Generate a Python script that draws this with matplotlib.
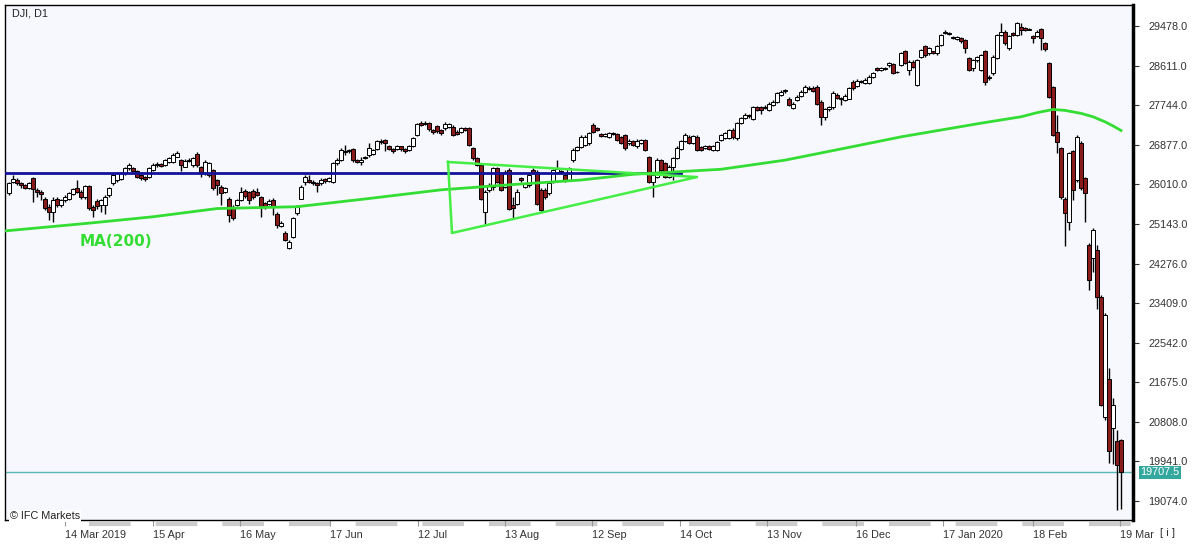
import numpy as np
import matplotlib.pyplot as plt
import matplotlib.transforms as mtransforms

plt.rcParams['font.family'] = ['Liberation Sans', 'DejaVu Sans']

# daily candles DJI (index 0 = first candle on the left)
opens = [
    25810, 26070, 26100, 26030, 25990, 25930, 26160, 25890, 25850, 25700,
    25520, 25410, 25700, 25560, 25670, 25700, 25800, 25920, 25850, 25740,
    25970, 25520, 25650, 25560, 25560, 25780, 26030, 26100, 26130, 26250,
    26360, 26360, 26310, 26210, 26180, 26180, 26330, 26430, 26450, 26430,
    26500, 26510, 26620, 26540, 26400, 26520, 26430, 26670, 26400, 26250,
    26220, 26320, 26100, 25960, 25850, 25700, 25520, 25560, 25670, 25870,
    25850, 25870, 25850, 25730, 25600, 25580, 25670, 25360, 25100, 24940,
    24610, 24860, 25380, 25700, 26070, 26110, 26070, 26030, 26030, 26120,
    26090, 26070, 26470, 26540, 26740, 26740, 26780, 26540, 26510, 26620,
    26650, 26680, 26780, 26960, 26980, 26840, 26780, 26790, 26840, 26780,
    26760, 26840, 27090, 27350, 27330, 27350, 27200, 27290, 27200, 27240,
    27270, 27270, 27160, 27160, 27240, 27240, 26800, 26580, 26430, 25410,
    25890, 25960, 26360, 26250, 25960, 26320, 25560, 25590, 26140, 25960,
    26000, 26330, 26290, 25890, 25890, 25810, 26070, 26290, 26300, 26220,
    26110, 26540, 26770, 26830, 26870, 26910, 27310, 27240, 27110, 27070,
    27050, 27130, 27120, 27050, 27090, 26910, 26950, 26840, 26910, 26980,
    26620, 26070, 26180, 26540, 26470, 26180, 26400, 26580, 26780, 26950,
    27050, 26910, 27050, 26830, 26800, 26850, 26770, 26760, 26980, 27020,
    27020, 27210, 27020, 27350, 27460, 27520, 27450, 27700, 27700, 27680,
    27640, 27750, 27820, 27970, 28080, 27890, 27680, 27860, 27950, 28040,
    28130, 28130, 28150, 27820, 27490, 27650, 27700, 27970, 27900, 27860,
    27890, 28260, 28160, 28280, 28220, 28220, 28370, 28550, 28510, 28560,
    28630, 28650, 28480, 28620, 28920, 28510, 28700, 28190, 28810, 29030,
    28880, 28920, 28880, 29060, 29340, 29300, 29230, 29200, 29210, 29170,
    28770, 28550, 28730, 28520, 28920, 28360, 28440, 28770, 29280, 29350,
    28990, 29320, 29280, 29460, 29430, 29400, 29260, 29260, 29410, 29110,
    28660, 28150, 27160, 26800, 25700, 25190, 26730, 26110, 26910, 26140,
    24680, 24390, 24570, 23550, 20920, 21740, 20670, 20380, 20410,
]
highs = [
    26070, 26210, 26140, 26070, 26010, 26070, 26180, 25920, 25880, 25740,
    25590, 25740, 25740, 25700, 25770, 25850, 25930, 26110, 25880, 26000,
    26000, 25560, 25680, 25700, 25780, 25960, 26250, 26290, 26290, 26400,
    26480, 26400, 26330, 26230, 26200, 26380, 26470, 26490, 26470, 26570,
    26620, 26690, 26740, 26560, 26560, 26580, 26600, 26720, 26420, 26540,
    26510, 26340, 26130, 25990, 25950, 25740, 25560, 25700, 25960, 25900,
    25870, 25900, 25920, 25760, 25630, 25680, 25710, 25400, 25200, 24980,
    24790, 25300, 25560, 26000, 26210, 26220, 26100, 26070, 26140, 26150,
    26170, 26500, 26580, 26800, 26870, 26790, 26800, 26560, 26610, 26640,
    26910, 26790, 26980, 27000, 27010, 26870, 26800, 26870, 26860, 26800,
    26880, 27040, 27350, 27400, 27400, 27380, 27220, 27310, 27220, 27370,
    27360, 27300, 27190, 27270, 27270, 27260, 26820, 26600, 26450, 25890,
    26030, 26400, 26400, 26290, 26320, 26360, 25740, 25900, 26180, 26050,
    26250, 26360, 26320, 25920, 25920, 26060, 26350, 26550, 26330, 26240,
    26390, 26800, 26860, 27080, 27080, 27160, 27360, 27260, 27130, 27140,
    27160, 27160, 27140, 27070, 27110, 27000, 26980, 27000, 27010, 27000,
    26640, 26250, 26580, 26570, 26500, 26440, 26620, 26840, 26980, 27130,
    27080, 27100, 27080, 26860, 26870, 26880, 26880, 26970, 27120, 27160,
    27230, 27240, 27380, 27490, 27570, 27550, 27730, 27720, 27720, 27740,
    27810, 27850, 28030, 28070, 28100, 27920, 27820, 27960, 28070, 28180,
    28160, 28160, 28180, 27850, 27680, 27730, 28050, 28000, 27920, 27980,
    28140, 28290, 28310, 28300, 28330, 28400, 28480, 28570, 28570, 28580,
    28700, 28670, 28500, 28910, 28950, 28730, 28730, 28760, 28980, 29060,
    29020, 28940, 29060, 29310, 29390, 29350, 29260, 29260, 29240, 29190,
    28790, 28760, 28830, 28870, 28950, 28400, 28840, 29310, 29540, 29380,
    29290, 29340, 29570, 29540, 29450, 29440, 29280, 29380, 29430, 29130,
    28680, 28170, 27530, 26820, 25730, 26720, 26760, 27090, 26950, 26170,
    24720, 25050, 24680, 23580, 23200, 21980, 21320, 20630, 20430,
]
lows = [
    25780, 26030, 25990, 25920, 25900, 25900, 25630, 25740, 25670, 25450,
    25230, 25190, 25520, 25520, 25630, 25660, 25770, 25820, 25700, 25700,
    25450, 25300, 25480, 25410, 25370, 25740, 26000, 26070, 26100, 26220,
    26330, 26280, 26160, 26110, 26090, 26150, 26300, 26400, 26400, 26410,
    26470, 26480, 26600, 26310, 26380, 26500, 26400, 26400, 26180, 26220,
    26180, 25880, 25780, 25560, 25820, 25190, 25230, 25530, 25640, 25720,
    25590, 25700, 25760, 25300, 25480, 25550, 25340, 25050, 25070, 24760,
    24590, 24840, 25340, 25680, 26000, 26050, 26000, 25850, 26000, 26050,
    26070, 26050, 26440, 26520, 26660, 26700, 26510, 26480, 26430, 26560,
    26620, 26650, 26760, 26900, 26730, 26770, 26690, 26770, 26730, 26690,
    26740, 26820, 27060, 27290, 27320, 27180, 27120, 27140, 27090, 27200,
    27240, 27060, 27080, 27140, 27170, 26850, 26550, 26410, 25670, 25150,
    25850, 25880, 26040, 25860, 25930, 25450, 25270, 25560, 26060, 25920,
    25960, 26230, 25560, 25410, 25700, 25780, 26040, 26270, 26240, 26060,
    26080, 26500, 26740, 26800, 26840, 26880, 27140, 27180, 27040, 27040,
    27020, 27090, 26960, 26890, 26770, 26880, 26850, 26810, 26890, 26740,
    26040, 25740, 26150, 26290, 26150, 26150, 26100, 26560, 26760, 26930,
    26890, 26890, 26730, 26740, 26780, 26760, 26750, 26740, 26960, 27000,
    27000, 27010, 26990, 27330, 27440, 27470, 27430, 27610, 27560, 27660,
    27620, 27720, 27790, 27940, 28020, 27720, 27650, 27830, 27920, 28010,
    28070, 28040, 27750, 27310, 27420, 27620, 27670, 27870, 27750, 27840,
    27870, 28080, 28140, 28230, 28200, 28200, 28350, 28500, 28490, 28510,
    28590, 28420, 28440, 28600, 28640, 28400, 28560, 28170, 28780, 28810,
    28850, 28860, 28850, 29030, 29300, 29280, 29190, 29180, 29110, 28880,
    28490, 28500, 28700, 28490, 28180, 28300, 28410, 28750, 29260, 29070,
    28960, 29250, 29250, 29280, 29360, 29380, 29100, 29240, 28960, 28940,
    27900, 27060, 26690, 25700, 24650, 25010, 25670, 26070, 25880, 25190,
    23700, 24100, 23290, 21150, 20850, 19900, 19880, 18880, 18910,
]
closes = [
    26030, 26120, 26050, 25990, 25930, 26030, 25900, 25850, 25800, 25490,
    25410, 25670, 25560, 25670, 25740, 25820, 25900, 25850, 25740, 25970,
    25490, 25450, 25540, 25670, 25740, 25920, 26210, 26250, 26260, 26360,
    26430, 26310, 26180, 26140, 26120, 26360, 26430, 26450, 26420, 26540,
    26580, 26650, 26690, 26440, 26520, 26550, 26580, 26430, 26290, 26510,
    26470, 25920, 25990, 25810, 25920, 25340, 25270, 25670, 25850, 25760,
    25670, 25740, 25780, 25540, 25520, 25650, 25520, 25120, 25160, 24790,
    24750, 25270, 25520, 25960, 26180, 26070, 26030, 26000, 26110, 26080,
    26140, 26470, 26540, 26760, 26720, 26760, 26540, 26510, 26540, 26590,
    26800, 26760, 26950, 26930, 26910, 26790, 26750, 26840, 26780, 26730,
    26850, 27020, 27330, 27310, 27360, 27220, 27160, 27170, 27140, 27330,
    27330, 27090, 27110, 27240, 27200, 26870, 26580, 26430, 25700, 25850,
    26000, 26360, 26070, 25890, 26290, 25480, 25490, 25850, 26100, 26020,
    26220, 26250, 25590, 25450, 25740, 26030, 26320, 26340, 26270, 26110,
    26360, 26760, 26830, 27050, 27050, 27130, 27160, 27210, 27070, 27110,
    27140, 27120, 26980, 26910, 26800, 26970, 26870, 26970, 26980, 26760,
    26070, 26220, 26540, 26320, 26180, 26400, 26580, 26800, 26950, 27090,
    26910, 27070, 26760, 26770, 26840, 26780, 26850, 26940, 27090, 27130,
    27200, 27040, 27350, 27460, 27530, 27500, 27700, 27640, 27640, 27710,
    27780, 27820, 28000, 28040, 28050, 27750, 27780, 27930, 28040, 28150,
    28100, 28060, 27780, 27490, 27650, 27700, 28020, 27900, 27870, 27950,
    28110, 28110, 28280, 28250, 28300, 28370, 28450, 28520, 28550, 28530,
    28660, 28440, 28460, 28880, 28660, 28700, 28590, 28730, 28950, 28840,
    28990, 28880, 29030, 29280, 29320, 29330, 29210, 29230, 29140, 28990,
    28510, 28730, 28800, 28840, 28260, 28330, 28810, 29280, 29350, 29100,
    29260, 29280, 29540, 29400, 29390, 29420, 29210, 29350, 29210, 28970,
    27930, 27090, 26940, 25740, 25380, 26690, 25890, 27050, 25920, 25830,
    23920, 25010, 23550, 21180, 23150, 20160, 21180, 19860, 19707.5,
]

# moving average MA(200), sampled along the drawn curve
ma_idx = [-1, 20, 36, 52, 72, 90, 108, 125, 143, 156, 178, 194, 210, 223, 243,
          253, 257, 261, 264, 268, 271, 274, 276, 278]
ma_val = [24990, 25160, 25300, 25480, 25520, 25700, 25890, 26000, 26105, 26230,
          26340, 26540, 26820, 27050, 27350, 27490, 27580, 27650, 27630, 27565,
          27490, 27380, 27290, 27190]

# drawn objects: horizontal level and triangle
level_idx = [-1, 168]
level_val = [26250, 26250]
tri_idx = [109.75, 110.75, 172, 109.75]
tri_val = [26500, 24945, 26170, 26500]

last_price = 19707.5

price_ticks = [19074, 19941, 20808, 21675, 22542, 23409, 24276, 25143, 26010, 26877, 27744, 28611, 29478]
date_pos = [14, 36, 57.75, 80.25, 102.25, 124, 145.75, 167.75, 189.5, 211.75, 233.5, 256, 277.75]
date_labels = ['14 Mar 2019', '15 Apr', '16 May', '17 Jun', '12 Jul', '13 Aug', '12 Sep',
               '14 Oct', '13 Nov', '16 Dec', '17 Jan 2020', '18 Feb', '19 Mar']

W, H = 1194, 545
fig = plt.figure(figsize=(W / 100, H / 100), dpi=100)
fig.patch.set_facecolor('white')
ax = fig.add_axes([5 / W, 1 - 520 / H, 1128 / W, 515 / H])
ax.set_facecolor('#f7f8fd')

o = np.array(opens, dtype=float)
c = np.array(closes, dtype=float)
h = np.array(highs, dtype=float)
l = np.array(lows, dtype=float)
x = np.arange(len(c))
up = c >= o

# wicks and bodies
ax.vlines(x, l, h, color='black', lw=1, zorder=2)
body = np.maximum(np.abs(c - o), 14)
ax.bar(x, body, bottom=np.minimum(o, c), width=0.8,
       color=np.where(up, 'white', '#8b1a1a'), edgecolor='black', linewidth=0.7, zorder=3)

# drawings
ax.plot(level_idx, level_val, color='#12129a', lw=2, zorder=4)
ax.plot(ma_idx, ma_val, color='#33dd33', lw=2, zorder=4, solid_joinstyle='round')
ax.plot(tri_idx, tri_val, color='#44ee44', lw=1.8, zorder=4)
ax.axhline(last_price, color='#58b8b4', lw=1, zorder=1)
ax.text(17.75, 24750, 'MA(200)', color='#33dd33', fontsize=11, fontweight='bold',
        family='DejaVu Sans', va='center', ha='left', zorder=5)

ax.set_xlim(-1, 281)
ax.set_ylim(18659, 29938)

# axes styling
ax.yaxis.tick_right()
ax.set_yticks(price_ticks)
ax.set_yticklabels([f'{v:.1f}' for v in price_ticks])
ax.tick_params(axis='y', right=True, left=False, length=4, width=0.8, pad=7,
               labelsize=7.8, colors='#333333')
ax.set_xticks(date_pos)
ax.set_xticklabels(date_labels, ha='left')
ax.tick_params(axis='x', length=4, width=0.8, pad=3, labelsize=7.8,
               color='#999999', labelcolor='#333333')
for s in ['left', 'top', 'bottom']:
    ax.spines[s].set_linewidth(1)
    ax.spines[s].set_color('black')
ax.spines['right'].set_linewidth(2.5)

# gray scale bar under the plot
trans = mtransforms.blended_transform_factory(ax.transData, ax.transAxes)
ax.plot([20, 281], [-0.007, -0.007], transform=trans, color='#cccccc', lw=3,
        dashes=(10, 6), clip_on=False, zorder=0)

# last price box
tb = mtransforms.blended_transform_factory(ax.transAxes, ax.transData)
ax.text(1.0065, last_price, '19707.5', transform=tb, ha='left', va='center',
        fontsize=7.8, color='white',
        bbox=dict(boxstyle='square,pad=0.15', fc='#34a89e', ec='none'))

fig.text(12 / W, 1 - 14 / H, 'DJI, D1', fontsize=7.8, va='center', color='#222222')
fig.text(10 / W, 1 - 516 / H, '© IFC Markets', fontsize=7.8, va='center', color='#222222',
         bbox=dict(boxstyle='square,pad=0.1', fc='white', ec='none'))
fig.text(1160 / W, 1 - 533 / H, '[ i ]', fontsize=8, va='center', color='#333333')

fig.savefig('out.png', dpi=100)
